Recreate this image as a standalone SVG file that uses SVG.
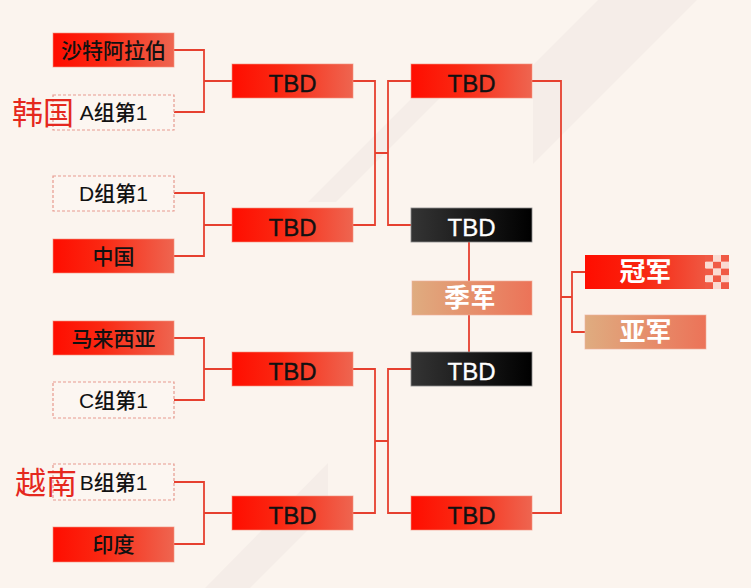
<svg xmlns="http://www.w3.org/2000/svg" width="751" height="588" viewBox="0 0 751 588">
  <defs>
    <linearGradient id="gRed" x1="0" y1="0" x2="1" y2="0">
      <stop offset="0" stop-color="#ff0d00"/>
      <stop offset="0.4" stop-color="#fa2812"/>
      <stop offset="1" stop-color="#ee6550"/>
    </linearGradient>
    <linearGradient id="gBlack" x1="0" y1="0" x2="1" y2="0">
      <stop offset="0" stop-color="#343434"/>
      <stop offset="1" stop-color="#000000"/>
    </linearGradient>
    <linearGradient id="gTan" x1="0" y1="0" x2="1" y2="0">
      <stop offset="0" stop-color="#dfac80"/>
      <stop offset="1" stop-color="#ec7358"/>
    </linearGradient>
    <linearGradient id="gChamp" x1="0" y1="0" x2="1" y2="0">
      <stop offset="0" stop-color="#ff0d00"/>
      <stop offset="0.45" stop-color="#f9230e"/>
      <stop offset="1" stop-color="#ef5842"/>
    </linearGradient>
    <style>
      .red { fill: url(#gRed); stroke: #f3937f; stroke-width: 1; stroke-opacity: 0.6; }
      .blk { fill: url(#gBlack); stroke: #8a8a8a; stroke-width: 0.8; }
      .tan { fill: url(#gTan); stroke: #f0b39c; stroke-width: 1; stroke-opacity: 0.6; }
      .dash { fill: #fcf6f1; stroke: #e79a8f; stroke-width: 1.2; stroke-dasharray: 3 2; }
      .cn { font-family: "Noto Sans CJK SC", "Liberation Sans", sans-serif; font-size: 21px; font-weight: 500; fill: #111111; text-anchor: middle; }
      .mix { font-family: "Liberation Sans", "Noto Sans CJK SC", sans-serif; font-size: 21px; font-weight: 500; fill: #111111; text-anchor: middle; }
      .tbd { font-family: "Liberation Sans", Arial, sans-serif; font-size: 24px; fill: #111111; stroke: #111111; stroke-width: 0.35; text-anchor: middle; }
      .tbdw { font-family: "Liberation Sans", Arial, sans-serif; font-size: 24px; fill: #ffffff; stroke: #ffffff; stroke-width: 0.3; text-anchor: middle; }
      .bw { font-family: "Noto Sans CJK SC", sans-serif; font-size: 26px; font-weight: 700; fill: #ffffff; text-anchor: middle; }
      .note { font-family: "Noto Sans CJK SC", sans-serif; font-size: 31px; font-weight: 400; fill: #e5281e; }
      .ln { fill: none; stroke: #e6402f; stroke-width: 1.8; }
      .band { fill: #f5ede8; }
      .ck { fill: #f05a45; }
      .cl { fill: #fadbd2; }
    </style>
  </defs>

  <rect x="0" y="0" width="751" height="588" fill="#fbf4ee"/>

  <g id="background">
    <polygon class="band" points="598,0 697,0 533,164 533,65"/>
    <polygon class="band" points="308,202 336,202 470,68 442,68"/>
    <polygon class="band" points="328,463 328,510 250,588 205,588"/>
  </g>

  <g id="connectors">
    <path class="ln" d="M174,50 H204 V112 H174 M204,81 H232"/>
    <path class="ln" d="M174,193 H204 V256 H174 M204,225 H232"/>
    <path class="ln" d="M174,338 H204 V400 H174 M204,369 H232"/>
    <path class="ln" d="M174,482 H204 V544 H174 M204,513 H232"/>
    <path class="ln" d="M353,81 H375 V225 H353 M375,153 H388 M411,81 H388 V225 H411"/>
    <path class="ln" d="M353,369 H375 V513 H353 M375,441 H388 M411,369 H388 V513 H411"/>
    <path class="ln" d="M469,242 V352"/>
    <path class="ln" d="M532,81 H561 V513 H532 M561,297 H572 M585,272 H572 V332 H585"/>
  </g>

  <g id="n-saudi"><rect class="red" x="53" y="33" width="121" height="34"/><text class="cn" x="113.5" y="58">沙特阿拉伯</text></g>
  <g id="n-a1"><rect class="dash" x="53" y="95" width="121" height="35"/><text class="mix" x="113.5" y="120">A组第1</text></g>
  <g id="n-d1"><rect class="dash" x="53" y="176" width="121" height="35"/><text class="mix" x="113.5" y="201">D组第1</text></g>
  <g id="n-china"><rect class="red" x="53" y="239" width="121" height="34"/><text class="cn" x="113.5" y="264">中国</text></g>
  <g id="n-malaysia"><rect class="red" x="53" y="321" width="121" height="34"/><text class="cn" x="113.5" y="346">马来西亚</text></g>
  <g id="n-c1"><rect class="dash" x="53" y="382" width="121" height="36"/><text class="mix" x="113.5" y="408">C组第1</text></g>
  <g id="n-b1"><rect class="dash" x="53" y="464" width="121" height="36"/><text class="mix" x="113.5" y="490">B组第1</text></g>
  <g id="n-india"><rect class="red" x="53" y="527" width="121" height="35"/><text class="cn" x="113.5" y="552">印度</text></g>

  <g id="n-qf1"><rect class="red" x="232" y="64" width="121" height="34"/><text class="tbd" x="292.5" y="91.5">TBD</text></g>
  <g id="n-qf2"><rect class="red" x="232" y="208" width="121" height="34"/><text class="tbd" x="292.5" y="235.5">TBD</text></g>
  <g id="n-qf3"><rect class="red" x="232" y="352" width="121" height="34"/><text class="tbd" x="292.5" y="379.5">TBD</text></g>
  <g id="n-qf4"><rect class="red" x="232" y="496" width="121" height="34"/><text class="tbd" x="292.5" y="523.5">TBD</text></g>

  <g id="n-sf1"><rect class="red" x="411" y="64" width="121" height="34"/><text class="tbd" x="471.5" y="91.5">TBD</text></g>
  <g id="n-sfl1"><rect class="blk" x="411" y="208" width="121" height="34"/><text class="tbdw" x="471.5" y="235.5">TBD</text></g>
  <g id="n-third"><rect class="tan" x="412" y="281" width="120" height="34"/><text class="bw" x="470" y="307">季军</text></g>
  <g id="n-sfl2"><rect class="blk" x="411" y="352" width="121" height="34"/><text class="tbdw" x="471.5" y="379.5">TBD</text></g>
  <g id="n-sf2"><rect class="red" x="411" y="496" width="121" height="34"/><text class="tbd" x="471.5" y="523.5">TBD</text></g>

  <g id="n-champion">
    <rect x="585" y="255" width="121" height="34" fill="url(#gChamp)"/>
    <rect class="ck" x="705" y="255" width="8" height="6.8"/>
    <rect class="cl" x="713" y="255" width="8" height="6.8"/>
    <rect class="ck" x="721" y="255" width="8" height="6.8"/>
    <rect class="cl" x="705" y="261.8" width="8" height="6.8"/>
    <rect class="ck" x="713" y="261.8" width="8" height="6.8"/>
    <rect class="cl" x="721" y="261.8" width="8" height="6.8"/>
    <rect class="ck" x="705" y="268.6" width="8" height="6.8"/>
    <rect class="cl" x="713" y="268.6" width="8" height="6.8"/>
    <rect class="ck" x="721" y="268.6" width="8" height="6.8"/>
    <rect class="cl" x="705" y="275.4" width="8" height="6.8"/>
    <rect class="ck" x="713" y="275.4" width="8" height="6.8"/>
    <rect class="cl" x="721" y="275.4" width="8" height="6.8"/>
    <rect class="ck" x="705" y="282.2" width="8" height="6.8"/>
    <rect class="cl" x="713" y="282.2" width="8" height="6.8"/>
    <rect class="ck" x="721" y="282.2" width="8" height="6.8"/>
    <text class="bw" x="645.5" y="281">冠军</text>
  </g>
  <g id="n-runnerup"><rect class="tan" x="585" y="315" width="121" height="34"/><text class="bw" x="645.5" y="341">亚军</text></g>

  <g id="annotations">
    <text class="note" x="12" y="124">韩国</text>
    <text class="note" x="15" y="494">越南</text>
  </g>
</svg>
